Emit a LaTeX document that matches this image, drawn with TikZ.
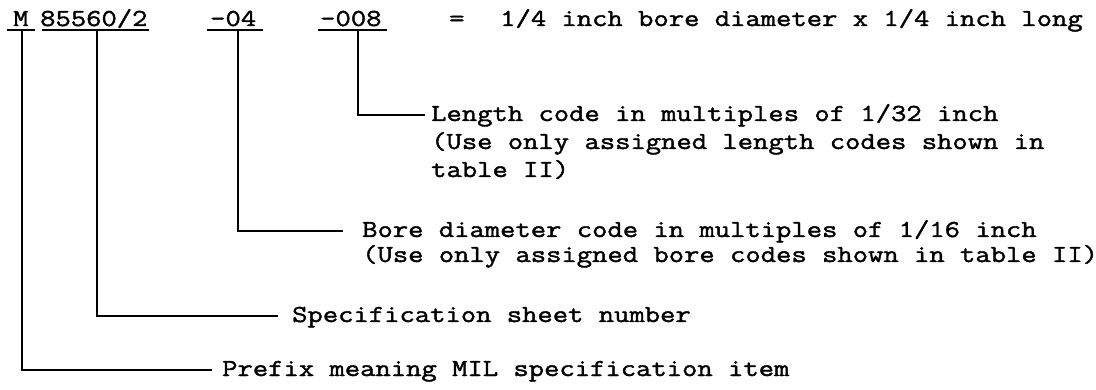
\documentclass[tikz,border=0pt]{standalone}
\usepackage{fontspec}
\newfontfamily\tw{Latin Modern Mono}[FakeStretch=1.22, FakeBold=1.6]
\begin{document}
\begin{tikzpicture}[x=1pt,y=-1pt,
  lbl/.style={anchor=base west, inner sep=0pt, font=\tw\fontsize{24.4}{26}\selectfont},
  lead/.style={line width=1.8pt, line join=miter, line cap=butt}]
\useasboundingbox (0,0) rectangle (1096,390);
% top row
\node[lbl] (m)    at (13,26)  {M};
\node[lbl] (spec) at (40,26)  {85560/2};
\node[lbl] (bore) at (210,26) {-04};
\node[lbl] (len)  at (320,26) {-008};
\node[lbl] (eq)   at (449,26) {=};
\node[lbl] (res)  at (500,26) {1/4 inch bore diameter x 1/4 inch long};
% underlines
\draw[lead] (7,30) -- (35,30);
\draw[lead] (42,30) -- (149,30);
\draw[lead] (207,30) -- (263,30);
\draw[lead] (318,30) -- (387,30);
% descriptions
\node[lbl] (len1) at (431,121) {Length code in multiples of 1/32 inch};
\node[lbl] (len2) at (431,149) {(Use only assigned length codes shown in};
\node[lbl] (len3) at (431,177) {table II)};
\node[lbl] (bor1) at (362,237) {Bore diameter code in multiples of 1/16 inch};
\node[lbl] (bor2) at (362,262) {(Use only assigned bore codes shown in table II)};
\node[lbl] (spc1) at (292,322) {Specification sheet number};
\node[lbl] (pre1) at (222,376) {Prefix meaning MIL specification item};
% connector ends
\coordinate (mtop) at (22,30);
\coordinate (stop) at (97,30);
\coordinate (btop) at (238,30);
\coordinate (ltop) at (358,30);
\coordinate (lend) at (425,115);
\coordinate (bend) at (343,231);
\coordinate (send) at (278,316);
\coordinate (pend) at (212,370);
\draw[lead] (ltop) |- (lend);
\draw[lead] (btop) |- (bend);
\draw[lead] (stop) |- (send);
\draw[lead] (mtop) |- (pend);
\end{tikzpicture}
\end{document}
